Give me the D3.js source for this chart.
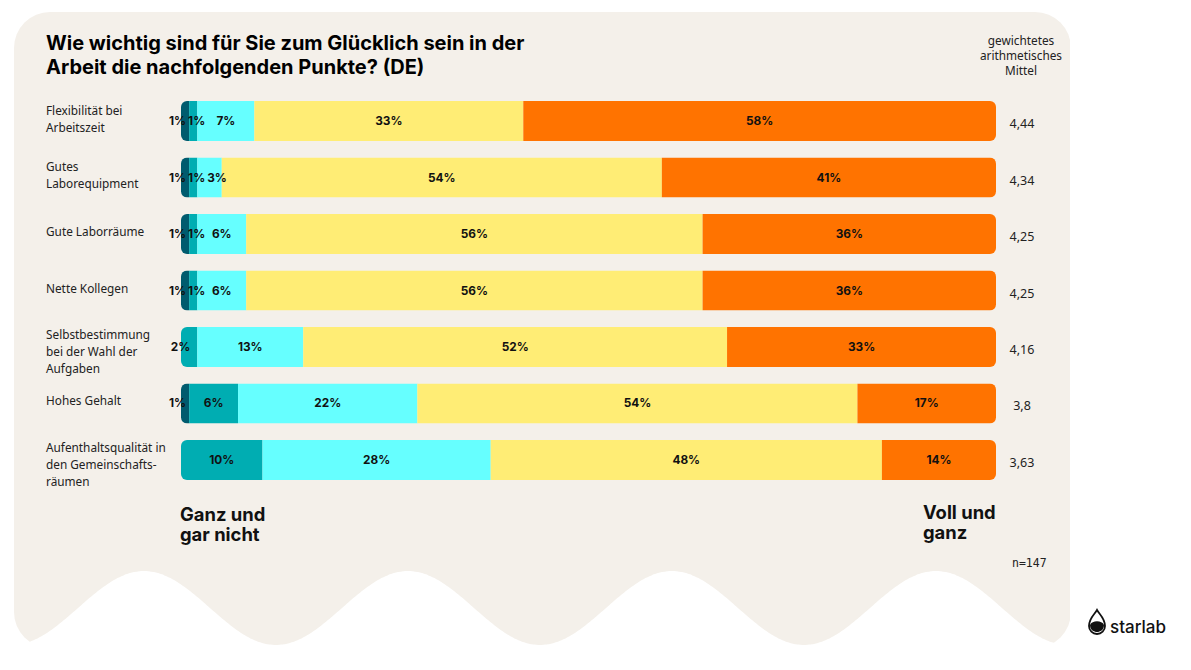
<!DOCTYPE html>
<html>
<head>
<meta charset="utf-8">
<script src="https://cdn.jsdelivr.net/npm/d3@7"></script>
<style>
  body { margin: 0; background: #fff; }
  svg { display: block; }
</style>
</head>
<body>
<script>
// Daten
const categories = [
  ["Flexibilität bei", "Arbeitszeit"],
  ["Gutes", "Laborequipment"],
  ["Gute Laborräume"],
  ["Nette Kollegen"],
  ["Selbstbestimmung", "bei der Wahl der", "Aufgaben"],
  ["Hohes Gehalt"],
  ["Aufenthaltsqualität in", "den Gemeinschafts-", "räumen"]
];
const gar_nicht = [1, 1, 1, 1, 0, 1, 0];
const eher_nicht = [1, 1, 1, 1, 2, 6, 10];
const teils = [7, 3, 6, 6, 13, 22, 28];
const eher = [33, 54, 56, 56, 52, 54, 48];
const voll = [58, 41, 36, 36, 33, 17, 14];
const mittel = ["4,44", "4,34", "4,25", "4,25", "4,16", "3,8", "3,63"];
const series = [gar_nicht, eher_nicht, teils, eher, voll];
const colors = ["#005b6e", "#00adb2", "#66ffff", "#ffed75", "#ff7300"];

const W = 1191, H = 670;
const bg = "#f4f0ea";

const svg = d3.select("body").append("svg")
  .attr("width", W).attr("height", H);

// Hintergrund mit Welle
const bgLeft = 14, bgRight = 1071, bgTop = 12;
const waveMid = 608, waveAmp = 37, period = 264, crest0 = 144;
const wave = [];
for (let px = bgLeft; px <= bgRight; px += 2) {
  wave.push([px, waveMid - waveAmp * Math.cos(2 * Math.PI * (px - crest0) / period)]);
}
const defs = svg.append("defs");
defs.append("clipPath").attr("id", "bgclip")
  .append("rect").attr("x", bgLeft).attr("y", bgTop)
  .attr("width", bgRight - bgLeft).attr("height", 648 - bgTop).attr("rx", 36);

const area = d3.area().x(d => d[0]).y0(bgTop).y1(d => d[1]).curve(d3.curveBasis);
svg.append("path").datum(wave)
  .attr("d", area)
  .attr("fill", bg)
  .attr("clip-path", "url(#bgclip)");

// Titel
svg.append("text")
  .attr("x", 46).attr("y", 50)
  .style("font-family", "Inter, sans-serif").style("font-weight", 700)
  .style("font-size", "20px")
  .selectAll("tspan")
  .data(["Wie wichtig sind für Sie zum Glücklich sein in der", "Arbeit die nachfolgenden Punkte? (DE)"])
  .enter().append("tspan")
  .attr("x", 46).attr("dy", (d, i) => i ? 24 : 0)
  .text(d => d);

// Mittel Kopf
svg.append("text")
  .attr("text-anchor", "middle")
  .style("font-family", "'Noto Sans', sans-serif").style("font-size", "11.8px")
  .attr("fill", "#222")
  .selectAll("tspan")
  .data(["gewichtetes", "arithmetisches", "Mittel"])
  .enter().append("tspan")
  .attr("x", 1021).attr("y", (d, i) => 45 + i * 15)
  .text(d => d);

// Skalen
const x = d3.scaleLinear().domain([0, 100]).range([181, 996]);
const y = d3.scaleBand().domain(d3.range(categories.length)).range([101, 480]).paddingInner(0.292).paddingOuter(0);

const rows = svg.selectAll(".row")
  .data(categories)
  .enter().append("g")
  .attr("class", "row");

rows.each(function (cat, r) {
  const g = d3.select(this);
  const y0 = y(r), bh = y.bandwidth(), cy = y0 + bh / 2;

  defs.append("clipPath").attr("id", "bar" + r)
    .append("rect").attr("x", x(0)).attr("y", y0)
    .attr("width", x(100) - x(0)).attr("height", bh).attr("rx", 6);

  let cum = 0;
  const segs = series.map((s, k) => {
    const d = { k: k, v: s[r], x0: cum, x1: cum + s[r] };
    cum += s[r];
    return d;
  });

  g.append("g").attr("clip-path", "url(#bar" + r + ")")
    .selectAll("rect").data(segs).enter().append("rect")
    .attr("x", d => x(d.x0))
    .attr("width", d => x(d.x1) - x(d.x0))
    .attr("y", y0).attr("height", bh)
    .attr("fill", d => colors[d.k]);

  // Prozent-Labels
  const labs = g.selectAll(".pct").data(segs.filter(d => d.v > 0))
    .enter().append("text")
    .attr("class", "pct")
    .attr("y", cy + 4)
    .style("font-family", "Inter, sans-serif").style("font-weight", 700)
    .style("font-size", "11.8px")
    .attr("fill", "#111")
    .text(d => d.v + "%");

  let prevRight = -Infinity;
  labs.each(function (d, i) {
    const tw = this.getComputedTextLength();
    const c = (x(d.x0) + x(d.x1)) / 2;
    const sw = x(d.x1) - x(d.x0);
    let l = c - tw / 2;
    if (i === 0 && tw > sw) l = c + 1 - tw;
    l = Math.max(l, prevRight + 2);
    prevRight = l + tw;
    d3.select(this).attr("x", l);
  });

  // Kategorie-Label
  const n = cat.length;
  const off = n === 3 ? 5 : -2;
  g.append("text")
    .style("font-family", "'Noto Sans', sans-serif").style("font-size", "11.8px")
    .attr("fill", "#222")
    .selectAll("tspan").data(cat).enter().append("tspan")
    .attr("x", 46)
    .attr("y", (d, i) => cy + off + 4 + (i - (n - 1) / 2) * 17)
    .text(d => d);

  // Mittelwert
  g.append("text")
    .attr("x", 1022).attr("y", cy + 7)
    .attr("text-anchor", "middle")
    .style("font-family", "'Noto Sans', sans-serif").style("font-size", "12.5px")
    .attr("fill", "#222")
    .text(mittel[r]);
});

// Skalen-Enden
function twoLines(tx, ty, lines) {
  svg.append("text")
    .style("font-family", "Inter, sans-serif").style("font-weight", 700)
    .style("font-size", "18.4px").attr("fill", "#111")
    .selectAll("tspan").data(lines).enter().append("tspan")
    .attr("x", tx).attr("y", (d, i) => ty + i * 20)
    .text(d => d);
}
twoLines(180, 521, ["Ganz und", "gar nicht"]);
twoLines(923, 519, ["Voll und", "ganz"]);

svg.append("text")
  .attr("x", 1012).attr("y", 567)
  .style("font-family", "'DejaVu Sans Mono', monospace").style("font-size", "11.5px")
  .attr("fill", "#222")
  .text("n=147");

// Logo
const logo = svg.append("g").attr("transform", "translate(1097,626)");
logo.append("path")
  .attr("d", "M0,-16 C-2,-12 -8,-8 -8,0 A8,8 0 0 0 8,0 C8,-8 2,-12 0,-16 Z")
  .attr("fill", "none").attr("stroke", "#111").attr("stroke-width", 1.8);
logo.append("path")
  .attr("d", "M-7,-1 C-5,-6 5,-6 7,-1 C7,4 3,6 0,6 C-3,6 -7,4 -7,-1 Z")
  .attr("fill", "#111");
svg.append("text")
  .attr("x", 1110).attr("y", 633)
  .style("font-family", "Inter, sans-serif").style("font-weight", 500)
  .style("font-size", "17px").attr("fill", "#111")
  .text("starlab");
</script>
</body>
</html>
